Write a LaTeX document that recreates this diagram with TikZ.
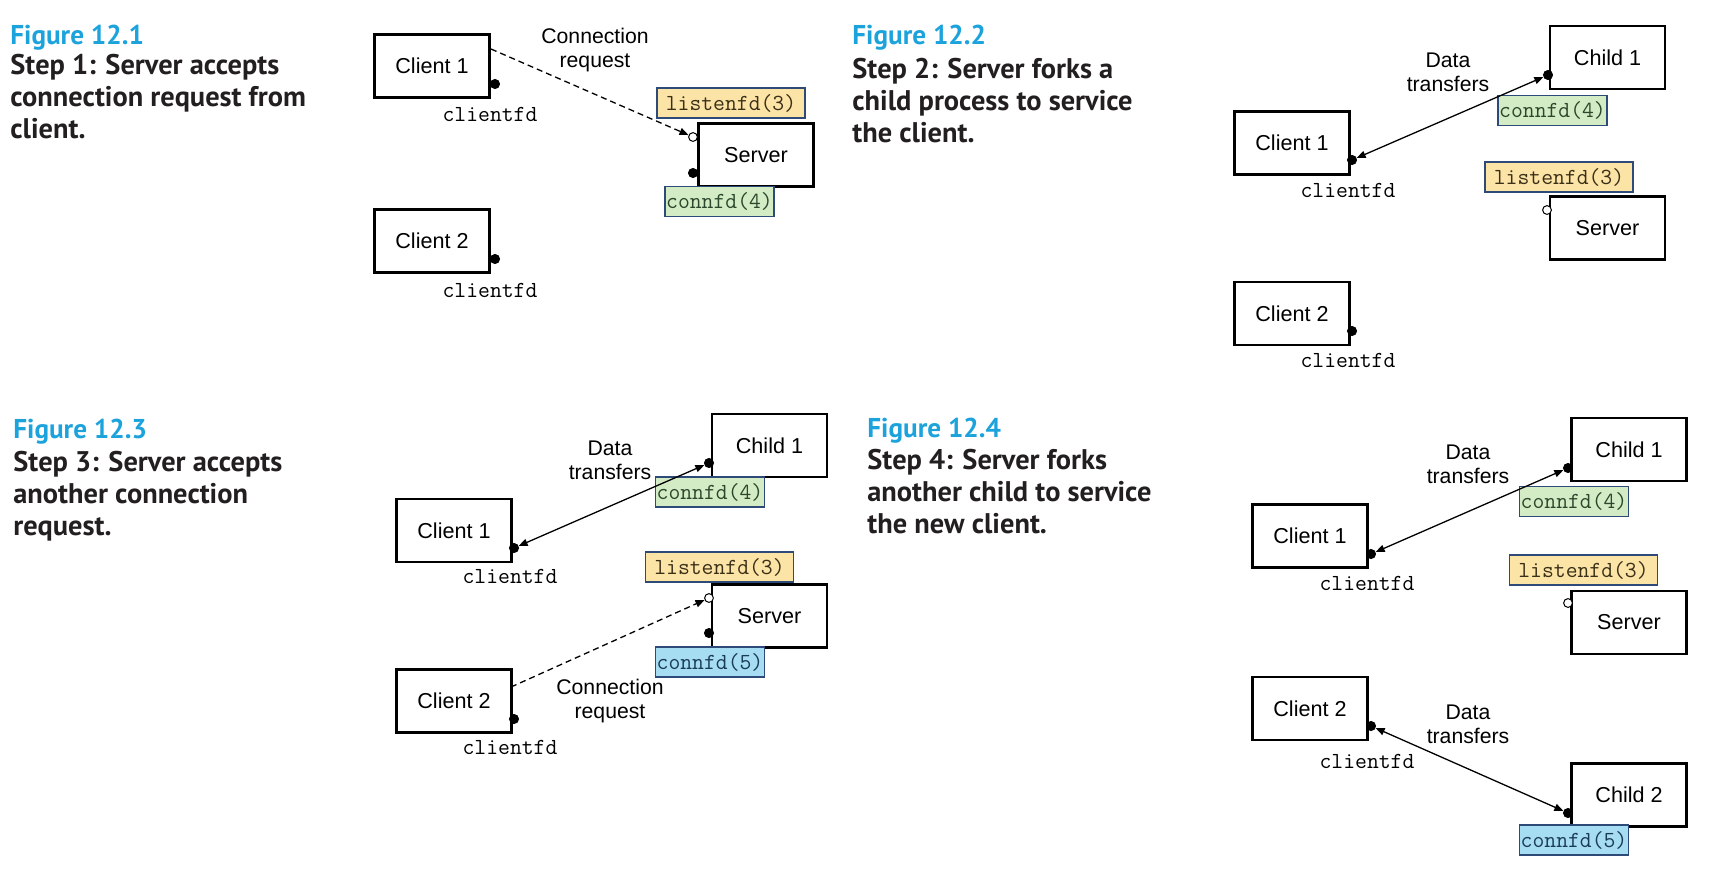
\documentclass[tikz,border=0pt]{standalone}
\usepackage{fontspec}
\setmainfont{Liberation Sans}
\newfontfamily\capfont{PT Sans}
\usetikzlibrary{arrows.meta}
\definecolor{figcyan}{HTML}{1CA3DC}
\definecolor{captext}{HTML}{231F20}
\definecolor{lfill}{HTML}{FCE3A6}
\definecolor{gfill}{HTML}{D4ECC6}
\definecolor{bfill}{HTML}{A6DDF2}
\definecolor{lborder}{HTML}{2E4A78}
\definecolor{ltext}{HTML}{3A3018}
\definecolor{gtext}{HTML}{2C482C}
\definecolor{btext}{HTML}{1B3C55}
\tikzset{
  proc/.style={draw, line width=1.15pt, minimum width=57.5pt, minimum height=31.5pt, inner sep=0pt, font=\fontsize{10.8}{12}\selectfont},
  fdlab/.style={anchor=base, inner sep=0pt, font=\ttfamily\fontsize{11.5}{12}\selectfont},
  fdbox/.style={draw=lborder, line width=0.8pt, minimum height=15pt, inner sep=0pt, font=\ttfamily\fontsize{11.5}{12}\selectfont},
  listenbox/.style={fdbox, fill=lfill, text=ltext, minimum width=74pt},
  connbox/.style={fdbox, fill=gfill, text=gtext, minimum width=54.5pt},
  connfbox/.style={fdbox, fill=bfill, text=btext, minimum width=54.5pt},
  sock/.style={circle, fill=black, draw=black, inner sep=0pt, minimum size=4.6pt},
  opensock/.style={circle, draw=black, fill=white, line width=0.5pt, inner sep=0pt, minimum size=4.4pt},
  xfer/.style={line width=0.65pt, {Triangle[length=4.5pt,width=3.6pt]}-{Triangle[length=4.5pt,width=3.6pt]}},
  req/.style={line width=0.65pt, dash pattern=on 3pt off 2pt, -{Triangle[length=4.5pt,width=3.6pt]}},
  lbl/.style={anchor=base, align=center, inner sep=0pt, font=\fontsize{10.6}{11.8}\selectfont},
  capnum/.style={anchor=base west, inner sep=0pt, text=figcyan, font=\capfont\bfseries\fontsize{13.6}{15.8}\selectfont},
  captxt/.style={anchor=base west, inner sep=0pt, align=left, text=captext, font=\capfont\bfseries\fontsize{14.2}{15.8}\selectfont}
}
\begin{document}
\begin{tikzpicture}[x=0.5pt,y=-0.5pt]
\useasboundingbox (0,0) rectangle (1728,873);

% ---------- Figure 12.1 ----------
\node[capnum] (f1num) at (10,44) {Figure 12.1};
\node[captxt] (f1txt) at (10,138) {Step 1: Server accepts\\connection request from\\client.};
\node[proc] (a-c1) at (432,66) {Client 1};
\node[proc] (a-c2) at (432,241) {Client 2};
\node[listenbox] (a-lis) at (731,103) {listenfd(3)};
\node[proc] (a-srv) at (756,155) {Server};
\node[connbox] (a-con) at (719.5,201.5) {connfd(4)};
\node[sock] (a-d1) at (495,84) {};
\node[sock] (a-d2) at (495,259) {};
\node[opensock] (a-o) at (693,137) {};
\node[sock] (a-ds) at (693,173) {};
\node[fdlab] (a-cf1) at (490,121) {clientfd};
\node[fdlab] (a-cf2) at (490,297) {clientfd};
\node[lbl] (a-req) at (595,67) {Connection\\request};
\coordinate (a-q) at (491,49);
\draw[req] (a-q) -- (a-o);

% ---------- Figure 12.2 ----------
\node[capnum] (f2num) at (852,44) {Figure 12.2};
\node[captxt] (f2txt) at (852,142) {Step 2: Server forks a\\child process to service\\the client.};
\node[proc] (b-ch1) at (1607.5,57.5) {Child 1};
\node[proc] (b-c1) at (1292,143) {Client 1};
\node[connbox] (b-con) at (1552.5,110.5) {connfd(4)};
\node[listenbox] (b-lis) at (1559,177) {listenfd(3)};
\node[proc] (b-srv) at (1607.5,228) {Server};
\node[proc] (b-c2) at (1292,313.5) {Client 2};
\node[sock] (b-d1) at (1352,160) {};
\node[sock] (b-dch) at (1548,75) {};
\node[opensock] (b-o) at (1547,210) {};
\node[sock] (b-d2) at (1352,331) {};
\node[fdlab] (b-cf1) at (1348,197) {clientfd};
\node[fdlab] (b-cf2) at (1348,367) {clientfd};
\node[lbl] (b-xf) at (1448,91) {Data\\transfers};
\draw[xfer] (b-d1) -- (b-dch);

% ---------- Figure 12.3 ----------
\node[capnum] (f3num) at (13,438) {Figure 12.3};
\node[captxt] (f3txt) at (13,535) {Step 3: Server accepts\\another connection\\request.};
\node[proc] (c-ch1) at (769.5,445.5) {Child 1};
\node[proc] (c-c1) at (454,530.5) {Client 1};
\node[connbox] (c-con) at (710,492) {connfd(4)};
\node[listenbox] (c-lis) at (719.5,567) {listenfd(3)};
\node[proc] (c-srv) at (769.5,616) {Server};
\node[connfbox] (c-con5) at (710,662) {connfd(5)};
\node[proc] (c-c2) at (454,701) {Client 2};
\node[sock] (c-d1) at (514,548) {};
\node[sock] (c-dch) at (709,463) {};
\node[opensock] (c-o) at (709,598) {};
\node[sock] (c-ds) at (709,633) {};
\node[sock] (c-d2) at (514,719) {};
\node[fdlab] (c-cf1) at (510,583) {clientfd};
\node[fdlab] (c-cf2) at (510,754) {clientfd};
\node[lbl] (c-xf) at (610,479) {Data\\transfers};
\node[lbl] (c-req) at (610,718) {Connection\\request};
\coordinate (c-q) at (511,687);
\draw[xfer] (c-d1) -- (c-dch);
\draw[req] (c-q) -- (c-o);

% ---------- Figure 12.4 ----------
\node[capnum] (f4num) at (867,437) {Figure 12.4};
\node[captxt] (f4txt) at (867,533) {Step 4: Server forks\\another child to service\\the new client.};
\node[proc] (d-ch1) at (1629,449.5) {Child 1};
\node[proc] (d-c1) at (1310,536) {Client 1};
\node[connbox] (d-con) at (1574,501.5) {connfd(4)};
\node[listenbox] (d-lis) at (1583.5,570) {listenfd(3)};
\node[proc] (d-srv) at (1629,622.5) {Server};
\node[proc] (d-c2) at (1310,708.5) {Client 2};
\node[proc] (d-ch2) at (1629,795) {Child 2};
\node[connfbox] (d-con5) at (1574,840) {connfd(5)};
\node[sock] (d-d1) at (1371,554) {};
\node[sock] (d-dch1) at (1568,468) {};
\node[opensock] (d-o) at (1568,603) {};
\node[sock] (d-d2) at (1371,726) {};
\node[sock] (d-dch2) at (1568,813) {};
\node[fdlab] (d-cf1) at (1367,590) {clientfd};
\node[fdlab] (d-cf2) at (1367,768) {clientfd};
\node[lbl] (d-xf1) at (1468,483) {Data\\transfers};
\node[lbl] (d-xf2) at (1468,743) {Data\\transfers};
\draw[xfer] (d-d1) -- (d-dch1);
\draw[xfer] (d-d2) -- (d-dch2);
\end{tikzpicture}
\end{document}
